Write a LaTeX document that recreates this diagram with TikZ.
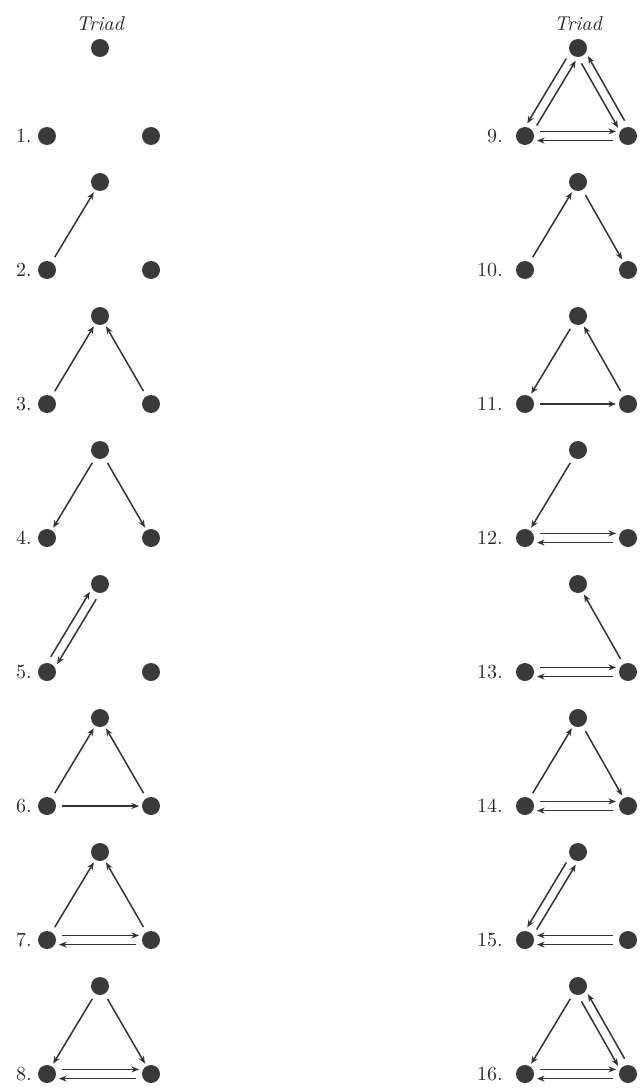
\documentclass[tikz,border=0pt]{standalone}
\usetikzlibrary{arrows.meta,calc}
\definecolor{dotInk}{HTML}{3A3A3A}
\definecolor{lineInk}{HTML}{333333}
\definecolor{textInk}{HTML}{2A2A2A}

\begin{document}
\begin{tikzpicture}[
  x=0.5pt, y=-0.5pt,
  font=\normalsize,
  dot/.style={circle, fill=dotInk, inner sep=0pt, minimum size=9pt},
  num/.style={anchor=east, inner sep=0pt, text=textInk},
  head/.style={font=\itshape, text=textInk},
  link/.style={draw=lineInk, line width=0.75pt,
    -{Stealth[length=3.8pt,width=3pt]},
    shorten >=6pt, shorten <=7.5pt,
    to path={($(\tikztostart)!#1!90:(\tikztotarget)$)
      -- ($(\tikztotarget)!#1!-90:(\tikztostart)$)}},
  link/.default=0pt,
  lside/.style={link=2.3pt},
  rside/.style={link=-2.3pt},
]
\useasboundingbox (0,0) rectangle (642,1091);

% =============================== headings ==================================
\node[head] (headL) at (100,24) {Triad};
\node[head] (headR) at (578,24) {Triad};

% ============================ dots and numbers =============================
\foreach \n [evaluate=\n as \yb using {136+134*(\n-1)},
             evaluate=\n as \m using {int(\n+8)}] in {1,...,8} {
  % left column: triads 1-8
  \node[dot] (L\n) at (47,\yb) {};
  \node[dot] (T\n) at (100,{\yb-88}) {};
  \node[dot] (R\n) at (151,\yb) {};
  \node[num] (n\n) at (32,\yb) {\n.};
  % right column: triads 9-16
  \node[dot] (L\m) at (525,\yb) {};
  \node[dot] (T\m) at (578,{\yb-88}) {};
  \node[dot] (R\m) at (628,\yb) {};
  \node[num] (n\m) at (503,\yb) {\m.};
}

% ================================ ties =====================================
% 2
\draw[link] (L2) to (T2);
% 3
\draw[link] (L3) to (T3);
\draw[link] (R3) to (T3);
% 4
\draw[link] (T4) to (L4);
\draw[link] (T4) to (R4);
% 5  mutual left-top
\draw[lside] (L5) to (T5);
\draw[lside] (T5) to (L5);
% 6
\draw[link] (L6) to (T6);
\draw[link] (R6) to (T6);
\draw[link] (L6) to (R6);
% 7
\draw[link] (L7) to (T7);
\draw[link] (R7) to (T7);
\draw[lside] (L7) to (R7);
\draw[lside] (R7) to (L7);
% 8
\draw[link] (T8) to (L8);
\draw[link] (T8) to (R8);
\draw[lside] (L8) to (R8);
\draw[lside] (R8) to (L8);
% 9  all mutual
\draw[rside] (L9) to (T9);
\draw[rside] (T9) to (L9);
\draw[rside] (T9) to (R9);
\draw[rside] (R9) to (T9);
\draw[lside] (L9) to (R9);
\draw[lside] (R9) to (L9);
% 10
\draw[link] (L10) to (T10);
\draw[link] (T10) to (R10);
% 11
\draw[link] (T11) to (L11);
\draw[link] (R11) to (T11);
\draw[link] (L11) to (R11);
% 12
\draw[link] (T12) to (L12);
\draw[lside] (L12) to (R12);
\draw[lside] (R12) to (L12);
% 13
\draw[link] (R13) to (T13);
\draw[lside] (L13) to (R13);
\draw[lside] (R13) to (L13);
% 14
\draw[link] (L14) to (T14);
\draw[link] (T14) to (R14);
\draw[lside] (L14) to (R14);
\draw[lside] (R14) to (L14);
% 15  both lower lines point left
\draw[rside] (L15) to (T15);
\draw[rside] (T15) to (L15);
\draw[lside] (R15) to (L15);
\draw[rside] (R15) to (L15);
% 16
\draw[link] (T16) to (L16);
\draw[rside] (T16) to (R16);
\draw[rside] (R16) to (T16);
\draw[lside] (L16) to (R16);
\draw[lside] (R16) to (L16);

\end{tikzpicture}
\end{document}
